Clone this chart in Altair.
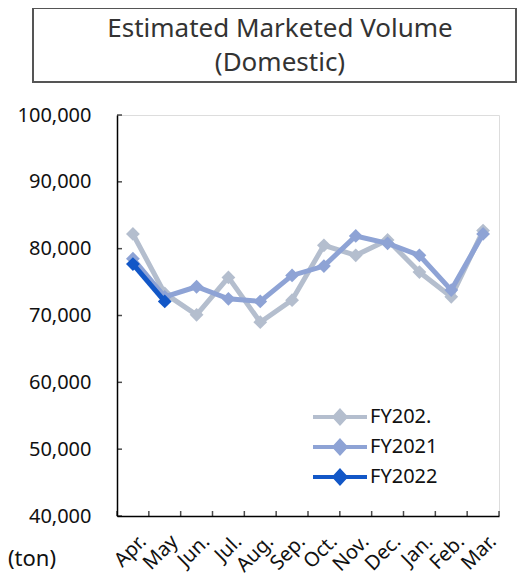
import altair as alt
import pandas as pd

months = ["Apr.", "May", "Jun.", "Jul.", "Aug.", "Sep.", "Oct.", "Nov.", "Dec.", "Jan.", "Feb.", "Mar."]
series_names = ["FY202.", "FY2021", "FY2022"]
fy202x = [82200, 73300, 70100, 75700, 69000, 72300, 80500, 79000, 81300, 76500, 72800, 82700]
fy2021 = [78500, 72800, 74300, 72500, 72100, 76000, 77400, 81900, 80800, 79000, 73800, 82200]
fy2022 = [77700, 72100]
colors = ["#B4BECE", "#8EA3D5", "#1257C7"]
y_ticks = [40000, 50000, 60000, 70000, 80000, 90000, 100000]

rows = []
for name, vals in zip(series_names, [fy202x, fy2021, fy2022]):
    for m, v in zip(months, vals):
        rows.append({"month": m, "series": name, "value": v})
df = pd.DataFrame(rows)

W, H = 382, 401
FONT = "Noto Sans"

x_scale = alt.Scale(domain=months, paddingInner=0, paddingOuter=0)
y_scale = alt.Scale(domain=[40000, 100000], zero=False, nice=False)

x_enc = alt.X("month:N", sort=months, scale=x_scale,
              axis=alt.Axis(title=None, labelAngle=-45, labelFontSize=20, labelColor="#111",
                            labelFont=FONT, ticks=False, domainColor="#000", domainWidth=1.5,
                            labelPadding=15, labelAlign="right", labelBaseline="top", labelOffset=3))
y_enc = alt.Y("value:Q", scale=y_scale,
              axis=alt.Axis(title=None, values=y_ticks, format=",.0f", labelFontSize=20, labelColor="#111",
                            labelFont=FONT, ticks=False, domainColor="#000", domainWidth=1.5,
                            labelPadding=26, grid=False))
color_enc = alt.Color("series:N", scale=alt.Scale(domain=series_names, range=colors),
                      legend=alt.Legend(title=None, orient="none", legendX=211, legendY=290,
                                        padding=0,
                                        symbolType="M-2.7,0L2.7,0M0,-0.6L0.55,0L0,0.6L-0.55,0Z",
                                        symbolSize=400, symbolStrokeWidth=4,
                                        labelFontSize=20, labelFont=FONT, labelColor="#111",
                                        rowPadding=2, labelOffset=18))

layers = []
for name in series_names:
    base = alt.Chart(df).transform_filter(alt.datum.series == name)
    layers.append(base.mark_line(strokeWidth=5).encode(x=x_enc, y=y_enc, color=color_enc))
    layers.append(base.mark_point(shape="diamond", filled=True, size=190, opacity=1).encode(
        x=x_enc, y=y_enc, color=color_enc))

tick_df = pd.DataFrame({"month": months})
xticks = alt.Chart(tick_df).mark_tick(orient="vertical", size=5, thickness=1.5, color="#000").encode(
    x=alt.X("month:N", sort=months, scale=x_scale, bandPosition=0), y=alt.value(H - 2.5))
xtick_end = alt.Chart(pd.DataFrame({"month": [months[-1]]})).mark_tick(
    orient="vertical", size=5, thickness=1.5, color="#000").encode(
    x=alt.X("month:N", sort=months, scale=x_scale, bandPosition=1), y=alt.value(H - 2.5))
yticks = alt.Chart(pd.DataFrame({"value": y_ticks})).mark_tick(
    orient="horizontal", size=5, thickness=1.5, color="#000").encode(
    y=y_enc, x=alt.value(2.5))

box = alt.Chart(pd.DataFrame({"a": [0]})).mark_rect(fill="white", stroke="#555", strokeWidth=2).encode(
    x=alt.value(-84), x2=alt.value(399), y=alt.value(-107), y2=alt.value(-33))
title1 = alt.Chart(pd.DataFrame({"t": ["Estimated Marketed Volume"]})).mark_text(
    fontSize=26, font=FONT, color="#333", align="center", baseline="middle").encode(
    text="t:N", x=alt.value(163), y=alt.value(-86))
title2 = alt.Chart(pd.DataFrame({"t": ["(Domestic)"]})).mark_text(
    fontSize=26, font=FONT, color="#333", align="center", baseline="middle").encode(
    text="t:N", x=alt.value(163), y=alt.value(-52))
unit = alt.Chart(pd.DataFrame({"t": ["(ton)"]})).mark_text(
    fontSize=22, font=FONT, color="#111", align="left", baseline="middle").encode(
    text="t:N", x=alt.value(-109), y=alt.value(444))

chart = alt.layer(box, title1, title2, unit, xticks, xtick_end, yticks, *layers).properties(
    width=W, height=H,
    autosize=alt.AutoSizeParams(type="none"),
    padding={"left": 109, "top": 107, "right": 23, "bottom": 66},
).configure_view(stroke=None).configure(background="white")

chart.save("out.html", embed_options={"renderer": "svg", "actions": False})
